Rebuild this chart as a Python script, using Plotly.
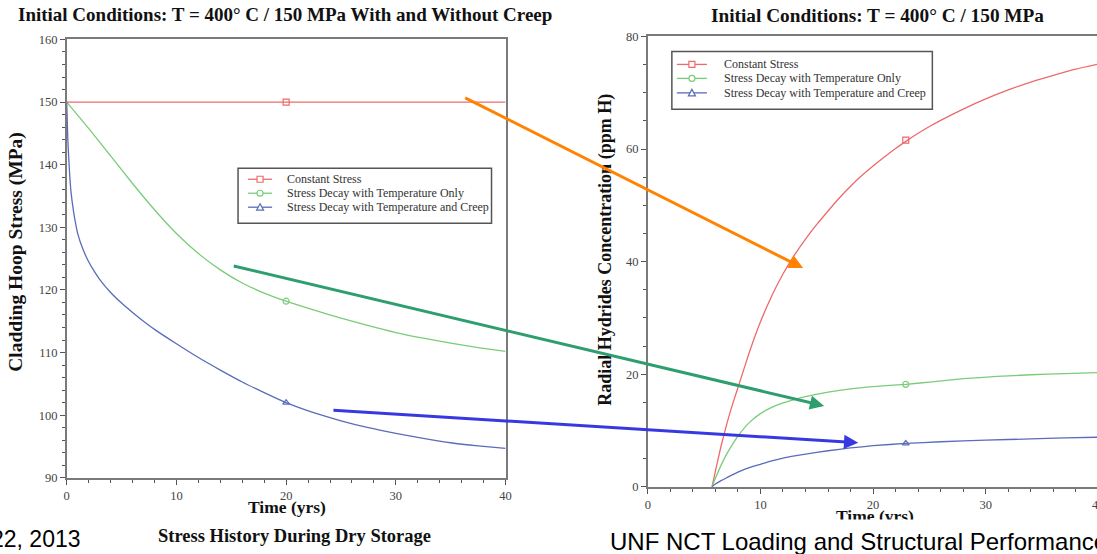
import plotly.graph_objects as go

# ---------------- data: left chart (stress history) ----------------
t_const_l = [0, 40]
stress_const = [150, 150]

t_temp_l = [0, 2, 4, 6, 8, 10, 12, 14, 16, 18, 20, 22.5, 25, 27.5, 30, 32.5, 35, 37.5, 40]
stress_temp = [150, 145.8, 141.4, 137.0, 132.8, 129.0, 125.8, 123.2, 121.1, 119.5, 118.2,
               116.8, 115.5, 114.3, 113.2, 112.3, 111.5, 110.8, 110.2]

t_creep_l = [0, 0.1, 0.25, 0.4, 0.6, 0.8, 1, 1.5, 2, 2.5, 3, 4, 5, 6, 7, 8, 10, 12, 14, 16,
             18, 20, 22.5, 25, 27.5, 30, 32.5, 35, 37.5, 40]
stress_creep = [150, 144, 139, 135.5, 132.8, 130.7, 129, 126.4, 124.5, 123.0, 121.7, 119.6,
                117.9, 116.4, 115.0, 113.7, 111.4, 109.2, 107.2, 105.3, 103.6, 102.0, 100.4,
                99.1, 98.0, 97.1, 96.3, 95.6, 95.1, 94.7]

marker_t_l = 20
marker_stress = [150, 118.2, 102.0]

# ---------------- data: right chart (radial hydrides) ----------------
t_const_r = [5.7, 6, 6.5, 7, 7.5, 8, 9, 10, 11, 12, 13, 14, 15, 16, 17, 18, 19, 20, 21, 22,
             23, 24, 25, 26, 28, 30, 32, 34, 36, 38, 40]
rh_const = [0, 2.8, 7.2, 11.1, 14.5, 17.6, 23.8, 29.3, 33.9, 37.8, 41.1, 44.0, 46.6, 49.0,
            51.3, 53.4, 55.3, 57.0, 58.6, 60.1, 61.5, 62.8, 64.0, 65.1, 67.1, 68.9, 70.5,
            71.9, 73.1, 74.2, 75.1]

t_temp_r = [5.7, 6, 6.5, 7, 7.5, 8, 9, 10, 11, 12, 13, 14, 16, 18, 20, 22.9, 25, 28, 31,
            34, 37, 40]
rh_temp = [0, 1.5, 3.8, 5.8, 7.5, 9.0, 11.4, 13.0, 14.1, 14.9, 15.5, 16.0, 16.8, 17.4,
           17.8, 18.2, 18.6, 19.2, 19.6, 19.9, 20.1, 20.3]

t_creep_r = [5.7, 6, 6.5, 7, 8, 9, 10, 11, 12, 14, 16, 18, 20, 22.9, 26, 30, 34, 37, 40]
rh_creep = [0, 0.5, 1.1, 1.6, 2.6, 3.4, 4.0, 4.6, 5.1, 5.8, 6.4, 6.9, 7.3, 7.7, 8.0, 8.3,
            8.5, 8.7, 8.8]

marker_t_r = 22.9
marker_rh = [61.6, 18.2, 7.7]

series_names = ["Constant Stress",
                "Stress Decay with Temperature Only",
                "Stress Decay with Temperature and Creep"]
series_colors = ["#EE6A6A", "#7ACC7A", "#5A6CBA"]
series_symbols = ["square-open", "circle-open", "triangle-up-open"]

SERIF = "Liberation Serif"
SANS = "Liberation Sans"

# ---- placement helpers: positions are given in target-picture pixels ----
OX, OY, SX, SY = 2.4, 6.5, 0.99, 0.9765
FW, FH = 1107, 561


def px(x):
    return (x - OX) / SX / FW


def py(y):
    return 1 - (y - OY) / SY / FH


fig = go.Figure()

left_lines = [(t_const_l, stress_const), (t_temp_l, stress_temp), (t_creep_l, stress_creep)]
right_lines = [(t_const_r, rh_const), (t_temp_r, rh_temp), (t_creep_r, rh_creep)]

for i, (tx, vy) in enumerate(left_lines):
    fig.add_trace(go.Scatter(x=tx, y=vy, mode="lines",
                             line=dict(color=series_colors[i], width=1.3, shape="spline", smoothing=0.5),
                             showlegend=False, xaxis="x", yaxis="y", hoverinfo="skip"))
    fig.add_trace(go.Scatter(x=[marker_t_l], y=[marker_stress[i]], mode="markers",
                             name=series_names[i], showlegend=False,
                             marker=dict(symbol=series_symbols[i], size=6,
                                         color=series_colors[i], line=dict(width=1.2)),
                             xaxis="x", yaxis="y"))

for i, (tx, vy) in enumerate(right_lines):
    fig.add_trace(go.Scatter(x=tx, y=vy, mode="lines",
                             line=dict(color=series_colors[i], width=1.3, shape="spline", smoothing=0.5),
                             showlegend=False, xaxis="x2", yaxis="y2", hoverinfo="skip"))
    fig.add_trace(go.Scatter(x=[marker_t_r], y=[marker_rh[i]], mode="markers",
                             name=series_names[i], showlegend=False,
                             marker=dict(symbol=series_symbols[i], size=6,
                                         color=series_colors[i], line=dict(width=1.2)),
                             xaxis="x2", yaxis="y2"))


def axis_style(minor_dtick):
    return dict(showgrid=False, zeroline=False, showline=True, linecolor="#7a7a7a",
                linewidth=1.5, mirror=True, ticks="outside", ticklen=5, tickcolor="#555",
                tickwidth=1, tickfont=dict(family=SERIF, size=12.5, color="#444"),
                minor=dict(ticks="outside", ticklen=3, tickcolor="#555", dtick=minor_dtick))


fig.update_layout(
    width=FW, height=FH, margin=dict(l=0, r=0, t=0, b=0),
    paper_bgcolor="white", plot_bgcolor="white", showlegend=False,
    xaxis=dict(domain=[px(66), px(504)], range=[0, 40], dtick=10, anchor="y", **axis_style(2)),
    yaxis=dict(domain=[py(478), py(39)], range=[90, 160], dtick=10, anchor="x", **axis_style(2)),
    xaxis2=dict(domain=[px(646), px(1095.7)], range=[0, 40], dtick=10, anchor="y2", **axis_style(2)),
    yaxis2=dict(domain=[py(487), py(36)], range=[0, 80], dtick=20, anchor="x2", **axis_style(5)),
)

# ---------------- legends (drawn as boxes, sample lines, markers, labels) ----------------
shapes = []
anns = []


def add_legend(box, ys, line_x, marker_x, text_x):
    x0, y0, x1, y1 = box
    shapes.append(dict(type="rect", xref="paper", yref="paper", layer="above",
                       x0=px(x0), x1=px(x1), y0=py(y1), y1=py(y0),
                       line=dict(color="#555", width=1.5), fillcolor="white"))
    for i, yy in enumerate(ys):
        col = series_colors[i]
        shapes.append(dict(type="line", xref="paper", yref="paper", layer="above",
                           x0=px(line_x[0]), x1=px(line_x[1]), y0=py(yy), y1=py(yy),
                           line=dict(color=col, width=1.3)))
        r = 3
        if i == 0:
            shapes.append(dict(type="rect", xref="paper", yref="paper", layer="above",
                               x0=px(marker_x - r), x1=px(marker_x + r), y0=py(yy + r), y1=py(yy - r),
                               line=dict(color=col, width=1.2), fillcolor="white"))
        elif i == 1:
            shapes.append(dict(type="circle", xref="paper", yref="paper", layer="above",
                               x0=px(marker_x - r), x1=px(marker_x + r), y0=py(yy + r), y1=py(yy - r),
                               line=dict(color=col, width=1.2), fillcolor="white"))
        else:
            path = "M {},{} L {},{} L {},{} Z".format(px(marker_x), py(yy - 3.5),
                                                     px(marker_x - 3.5), py(yy + 3),
                                                     px(marker_x + 3.5), py(yy + 3))
            shapes.append(dict(type="path", xref="paper", yref="paper", layer="above", path=path,
                               line=dict(color=col, width=1.2), fillcolor="white"))
        anns.append(dict(text=series_names[i], x=px(text_x), y=py(yy), xref="paper", yref="paper",
                         showarrow=False, xanchor="left", yanchor="middle",
                         font=dict(family=SERIF, size=12, color="#333")))


add_legend((237, 168, 490, 223), [179, 193, 207], (247, 271), 259, 284)
add_legend((670, 51, 930, 109), [64, 78, 92.5], (675, 705), 690, 720)


def text_ann(txt, x, y, size, family=SERIF, bold=True, angle=0, xanchor="center", color="#111", **kw):
    d = dict(text=txt, x=px(x), y=py(y), xref="paper", yref="paper", showarrow=False,
             xanchor=xanchor, yanchor="middle", textangle=angle,
             font=dict(family=family, size=size, color=color, weight="bold" if bold else "normal"))
    d.update(kw)
    return d


anns += [
    text_ann("Initial Conditions: T = 400° C / 150 MPa With and Without Creep", 284, 14.5, 19),
    text_ann("Initial Conditions: T = 400° C / 150 MPa", 875, 15, 19.3),
    text_ann("Cladding Hoop Stress (MPa)", 16, 252, 19.5, angle=-90),
    text_ann("Radial Hydrides Concentration (ppm H)", 603, 250, 18, angle=-90),
    text_ann("Time (yrs)", 286, 507.5, 17.5),
    text_ann("Time (yrs)", 873, 516, 17.5),
    text_ann("Stress History During Dry Storage", 293, 536, 18.5),
    text_ann("22, 2013", 82, 539, 23, family=SANS, bold=False, xanchor="right", color="#000"),
    dict(text="UNF NCT Loading and Structural Performance", x=px(606), y=py(519),
         xref="paper", yref="paper", showarrow=False, xanchor="left", yanchor="top",
         width=500, height=40, align="left", valign="middle", bgcolor="white",
         font=dict(family=SANS, size=24, color="#000")),
]

# arrows: (tip_x, tip_y, tail_x, tail_y) in target pixels, colour
arrows = [
    (801, 268, 465, 101, "#FF8200"),
    (822, 406, 236, 269, "#2E9E6E"),
    (856, 443, 335, 411, "#3838E0"),
]
for tx, ty, sx, sy, col in arrows:
    anns.append(dict(x=px(tx), y=py(ty), xref="paper", yref="paper", text="",
                     showarrow=True, axref="pixel", ayref="pixel",
                     ax=(sx - tx) / SX, ay=(sy - ty) / SY,
                     arrowhead=2, arrowsize=0.95, arrowwidth=3, arrowcolor=col, standoff=0))

fig.update_layout(shapes=shapes, annotations=anns)

fig.write_html("out.html")
